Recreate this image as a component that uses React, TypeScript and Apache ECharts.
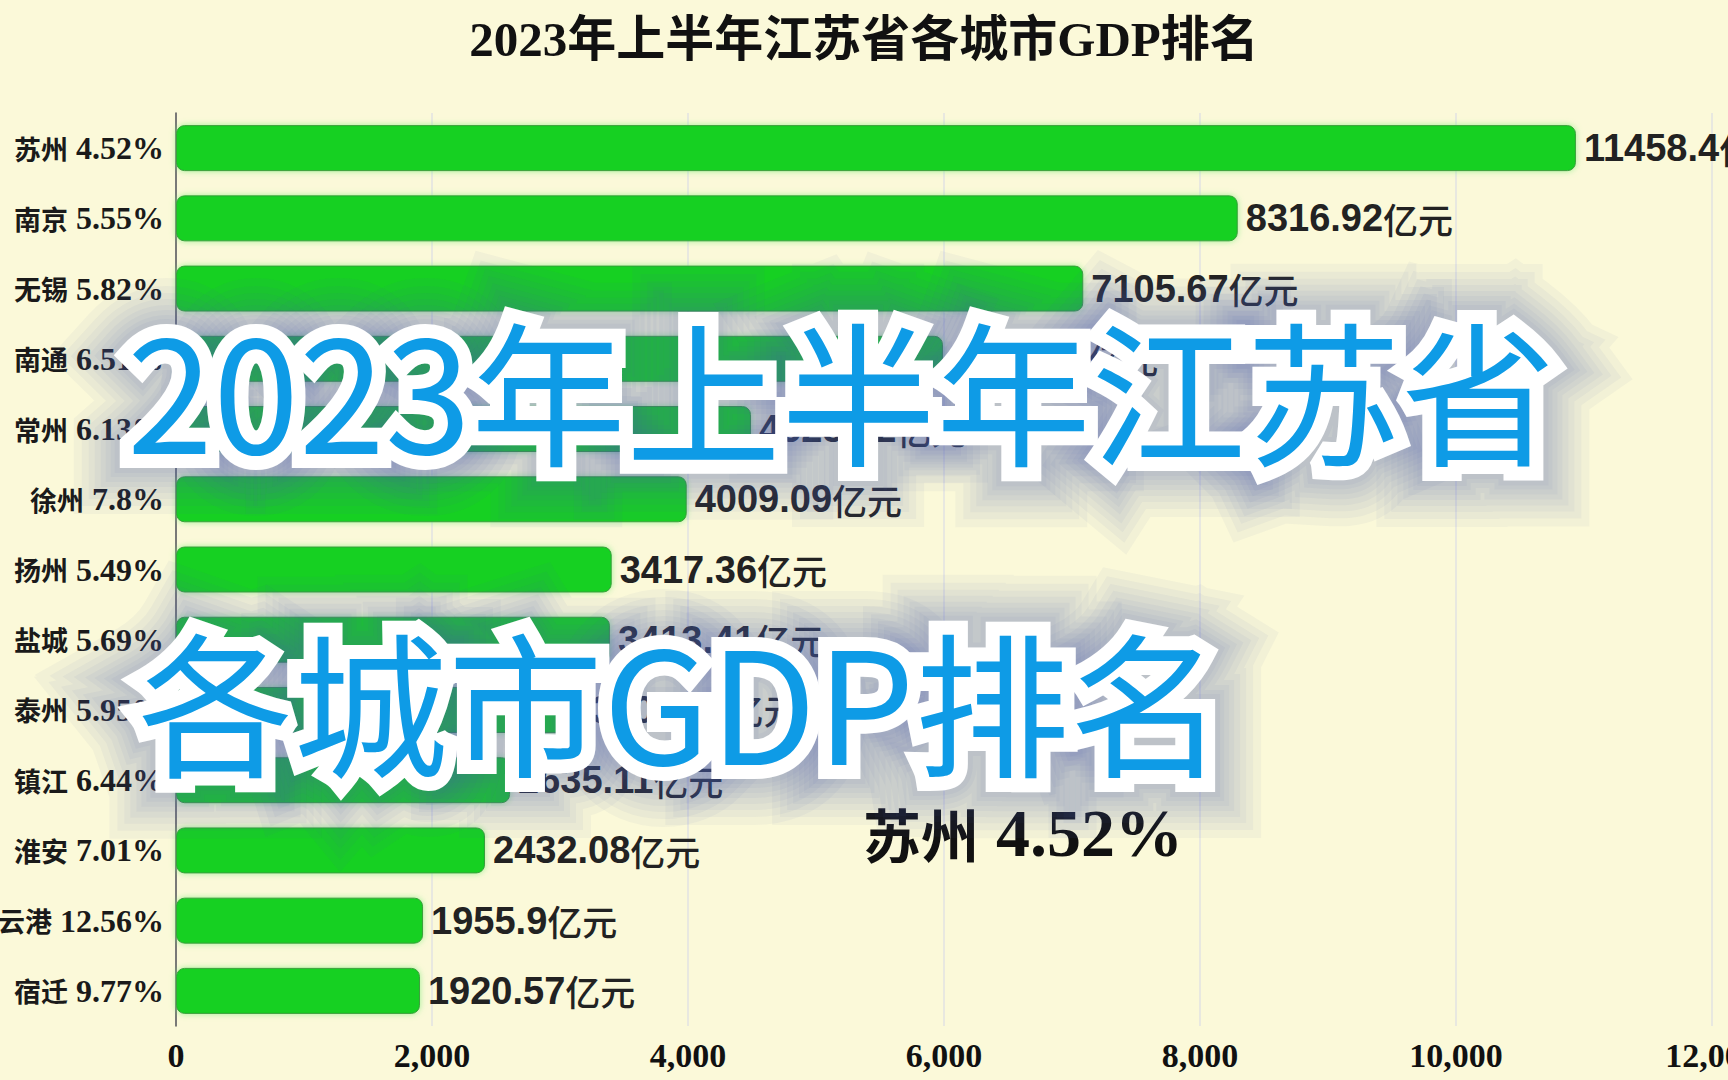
import React, { useEffect, useRef } from "react";
import * as echarts from "echarts";

const cities = ["苏州", "南京", "无锡", "南通", "常州", "徐州", "扬州", "盐城", "泰州", "镇江", "淮安", "连云港", "宿迁"];
const growth = ["4.52%", "5.55%", "5.82%", "6.51%", "6.13%", "7.8%", "5.49%", "5.69%", "5.95%", "6.44%", "7.01%", "12.56%", "9.77%"];
// GDP values shown in the labels (亿元)
const gdpLabels = [11458.4, 8316.92, 7105.67, 6042.39, 4525.42, 4009.09, 3417.36, 3413.41, 3206.89, 2635.11, 2432.08, 1955.9, 1920.57];
// bar lengths as drawn in the (animated) frame
const barLengths = [10937, 8295, 7088, 5992, 4492, 3990, 3404, 3390, 3180, 2610, 2414, 1930, 1906];
const xTicks = { min: 0, max: 12000, interval: 2000 };
const titleText = "2023年上半年江苏省各城市GDP排名";
const overlayLine1 = "2023年上半年江苏省";
const overlayLine2 = "各城市GDP排名";
const currentCity = "苏州";
const currentGrowth = "4.52%";

const SERIF = "'Liberation Serif', 'Noto Sans CJK SC', serif";
const CJK = "'Noto Sans CJK SC', sans-serif";

export default function App() {
  const ref = useRef<HTMLDivElement>(null);
  useEffect(() => {
    if (!ref.current) return;
    const chart = echarts.init(ref.current, null, { renderer: "svg" });
    const txt = (text: string, x: number, y: number, z: number, extra: any) => ({
      type: "text",
      x,
      y,
      z,
      silent: true,
      style: {
        text,
        font: `400 155px ${CJK}`,
        align: "left",
        verticalAlign: "middle",
        textAlign: "left",
        textVerticalAlign: "middle",
        lineJoin: "round",
        ...extra,
      },
    });
    const glowWidths = [120, 104, 90, 78, 66, 56, 46, 38];
    const overlay = (text: string, x: number, y: number) => [
      ...glowWidths.map((w, k) =>
        txt(text, x, y, 90 + k, { fill: "rgba(85,95,185,0.05)", stroke: "rgba(85,95,185,0.05)", lineWidth: w })
      ),
      txt(text, x, y, 99, { fill: "#ffffff", stroke: "#ffffff", lineWidth: 28 }),
      txt(text, x, y, 100, { fill: "#0e9be6" }),
    ];
    const option: any = {
      animation: false,
      backgroundColor: "#fbf9d9",
      title: {
        text: titleText,
        left: "center",
        top: 10,
        textStyle: { fontFamily: SERIF, fontWeight: "bold", fontSize: 49, color: "#111" },
      },
      grid: { left: 176, right: 16, top: 113, bottom: 54, containLabel: false, outerBoundsMode: "none" },
      xAxis: {
        type: "value",
        min: xTicks.min,
        max: xTicks.max,
        interval: xTicks.interval,
        axisLine: { show: false },
        axisTick: { show: false },
        splitLine: { lineStyle: { color: "#e2e2e2", width: 1.5 } },
        axisLabel: { fontFamily: SERIF, fontWeight: "bold", fontSize: 34, color: "#111", margin: 12 },
      },
      yAxis: {
        type: "category",
        inverse: true,
        data: cities,
        axisLine: { lineStyle: { color: "#555", width: 1.5 } },
        axisTick: { length: 5, lineStyle: { color: "#555", width: 1.5 } },
        axisLabel: {
          margin: 12,
          formatter: (v: string, i: number) => `{c|${v}}{g| ${growth[i]}}`,
          rich: {
            c: { fontFamily: CJK, fontWeight: "bold", fontSize: 27, color: "#1a1a1a" },
            g: { fontFamily: SERIF, fontWeight: "bold", fontSize: 32, color: "#1a1a1a" },
          },
        },
      },
      series: [
        {
          type: "bar",
          data: barLengths,
          barWidth: 46,
          itemStyle: {
            color: "#12d022",
            borderColor: "#3c9e3c",
            borderWidth: 1,
            borderRadius: 8,
            shadowBlur: 6,
            shadowColor: "rgba(120,235,120,0.7)",
          },
          label: {
            show: true,
            position: "right",
            distance: 8,
            formatter: (p: any) => `{n|${gdpLabels[p.dataIndex]}}{u|亿元}`,
            rich: {
              n: { fontFamily: "'Liberation Sans Narrow', 'Liberation Sans', sans-serif", fontWeight: "bold", fontSize: 38, color: "#222" },
              u: { fontFamily: CJK, fontWeight: 500, fontSize: 35, color: "#222" },
            },
          },
        },
      ],
      graphic: [
        {
          type: "text",
          x: 1023,
          y: 833,
          z: 50,
          style: {
            text: `{c|${currentCity}}{g| ${currentGrowth}}`,
            rich: {
              c: { fontFamily: CJK, fontWeight: "bold", fontSize: 58, fill: "#111", color: "#111" },
              g: { fontFamily: SERIF, fontWeight: "bold", fontSize: 68, fill: "#111", color: "#111" },
            },
            fill: "#111",
            align: "center",
            verticalAlign: "middle",
            textAlign: "center",
            textVerticalAlign: "middle",
          },
        },
        ...overlay(overlayLine1, 127, 386),
        ...overlay(overlayLine2, 138, 697),
      ],
    };
    chart.setOption(option);
    return () => chart.dispose();
  }, []);
  return (
    <div
      ref={ref}
      style={{ position: "fixed", left: 0, top: 0, width: 1728, height: 1080, background: "#fbf9d9" }}
    />
  );
}
